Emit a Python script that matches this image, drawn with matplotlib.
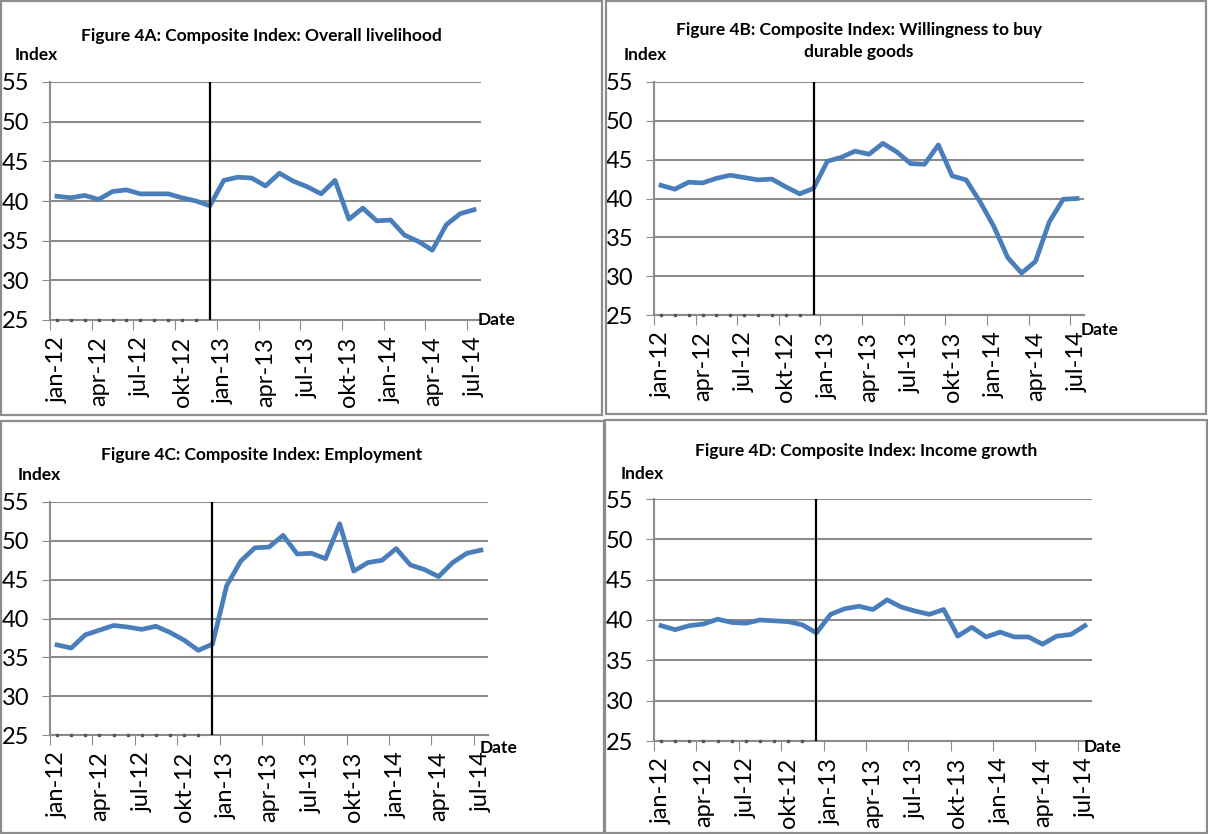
import matplotlib
matplotlib.use("Agg")
import matplotlib.pyplot as plt
from matplotlib.patches import Rectangle

plt.rcParams["font.family"] = ["Lato", "DejaVu Sans"]

W, H = 1208, 834

months = ["jan-12", "feb-12", "mar-12", "apr-12", "mai-12", "jun-12", "jul-12", "aug-12",
          "sep-12", "okt-12", "nov-12", "des-12", "jan-13", "feb-13", "mar-13", "apr-13",
          "mai-13", "jun-13", "jul-13", "aug-13", "sep-13", "okt-13", "nov-13", "des-13",
          "jan-14", "feb-14", "mar-14", "apr-14", "mai-14", "jun-14", "jul-14"]

livelihood = [40.6, 40.4, 40.7, 40.2, 41.2, 41.4, 40.9, 40.9, 40.9, 40.4, 40.0, 39.4,
              42.6, 43.0, 42.9, 41.9, 43.5, 42.5, 41.8, 40.9, 42.6, 37.7, 39.1, 37.5,
              37.6, 35.7, 34.9, 33.8, 37.0, 38.4, 38.9]
durables = [41.7, 41.2, 42.1, 42.0, 42.6, 43.0, 42.7, 42.4, 42.5, 41.5, 40.6, 41.3,
            44.8, 45.3, 46.1, 45.7, 47.1, 46.0, 44.5, 44.4, 46.9, 42.9, 42.4, 39.6,
            36.4, 32.4, 30.4, 31.9, 37.0, 39.9, 40.0]
employment = [36.6, 36.2, 37.9, 38.5, 39.1, 38.9, 38.6, 39.0, 38.2, 37.2, 35.9, 36.7,
              44.2, 47.4, 49.1, 49.2, 50.7, 48.3, 48.4, 47.7, 52.2, 46.1, 47.2, 47.5,
              49.0, 46.9, 46.3, 45.4, 47.2, 48.4, 48.8]
income = [39.3, 38.8, 39.3, 39.5, 40.1, 39.7, 39.6, 40.0, 39.9, 39.8, 39.4, 38.4,
          40.7, 41.4, 41.7, 41.3, 42.5, 41.6, 41.1, 40.7, 41.3, 38.0, 39.1, 37.9,
          38.5, 37.9, 37.9, 37.0, 38.0, 38.2, 39.3]

# small dots sitting on the axis for 2012 (jan-nov)
dots_2012 = [25] * 11
break_month = "des-12"

titles = ["Figure 4A: Composite Index: Overall livelihood",
          "Figure 4B: Composite Index: Willingness to buy\ndurable goods",
          "Figure 4C: Composite Index: Employment",
          "Figure 4D: Composite Index: Income growth"]
series = [livelihood, durables, employment, income]

# pixel layout: (left, right, top, bottom) of plot areas, panel boxes, title y, Index pos, Date pos
plot_px = [(50, 481, 82, 320), (654, 1084, 82, 315), (50, 488, 502, 735), (654, 1092, 499, 741)]
box_px = [(1, 1, 602, 415), (606, 1, 1206, 414), (1, 421, 604, 833), (605, 420, 1207, 833)]
title_xy = [(261, 36), (859, 41), (262, 455), (866, 451)]
index_xy = [(15, 55), (624, 55), (18, 475), (621, 474)]
date_xy = [(478, 320), (1081, 330), (480, 748), (1084, 747)]

fig = plt.figure(figsize=(W / 100, H / 100), dpi=100)

for k in range(4):
    x0, y0, x1, y1 = box_px[k]
    fig.patches.append(Rectangle((x0 / W, 1 - y1 / H), (x1 - x0) / W, (y1 - y0) / H,
                                 transform=fig.transFigure, fill=False,
                                 edgecolor="#8c8c8c", linewidth=1.6))

    l, r, t, b = plot_px[k]
    ax = fig.add_axes([l / W, 1 - b / H, (r - l) / W, (b - t) / H])
    xs = list(range(len(months)))
    ax.plot(xs, series[k], color="#4a7ebb", linewidth=3.4, solid_joinstyle="round", zorder=3)
    ax.plot(xs[:len(dots_2012)], dots_2012, linestyle="none", marker="s", markersize=1.4,
            color="#555555", clip_on=False, zorder=4)
    bi = months.index(break_month)
    ax.plot([bi, bi], [25, 55], color="black", linewidth=1.6, zorder=4)

    ax.set_xlim(-0.5, len(months) - 0.5)
    ax.set_ylim(25, 55)
    ax.set_yticks(range(25, 56, 5))
    ax.tick_params(axis="y", labelsize=17, length=6, color="#8c8c8c", pad=9)
    ax.set_xticks([i - 0.5 for i in range(0, len(months), 3)])
    ax.set_xticklabels([])
    ax.set_xticks(list(range(0, len(months), 3)), minor=True)
    ax.set_xticklabels([months[i] for i in range(0, len(months), 3)], minor=True,
                       rotation=90, fontsize=17)
    ax.tick_params(axis="x", which="major", length=7, color="#8c8c8c")
    ax.tick_params(axis="x", which="minor", length=0, pad=12)
    ax.grid(axis="y", color="#8c8c8c", linewidth=1.5)
    ax.set_axisbelow(True)
    for s in ["top", "right"]:
        ax.spines[s].set_visible(False)
    for s in ["left", "bottom"]:
        ax.spines[s].set_color("#8c8c8c")
        ax.spines[s].set_linewidth(1.5)

    tx, ty = title_xy[k]
    fig.text(tx / W, 1 - ty / H, titles[k], ha="center", va="center",
             fontsize=12.5, fontweight="bold", linespacing=1.45)
    ix, iy = index_xy[k]
    fig.text(ix / W, 1 - iy / H, "Index", ha="left", va="center", fontsize=12.5, fontweight="bold")
    dx, dy = date_xy[k]
    fig.text(dx / W, 1 - dy / H, "Date", ha="left", va="center", fontsize=12.5, fontweight="bold")

fig.savefig("out.png", dpi=100)
